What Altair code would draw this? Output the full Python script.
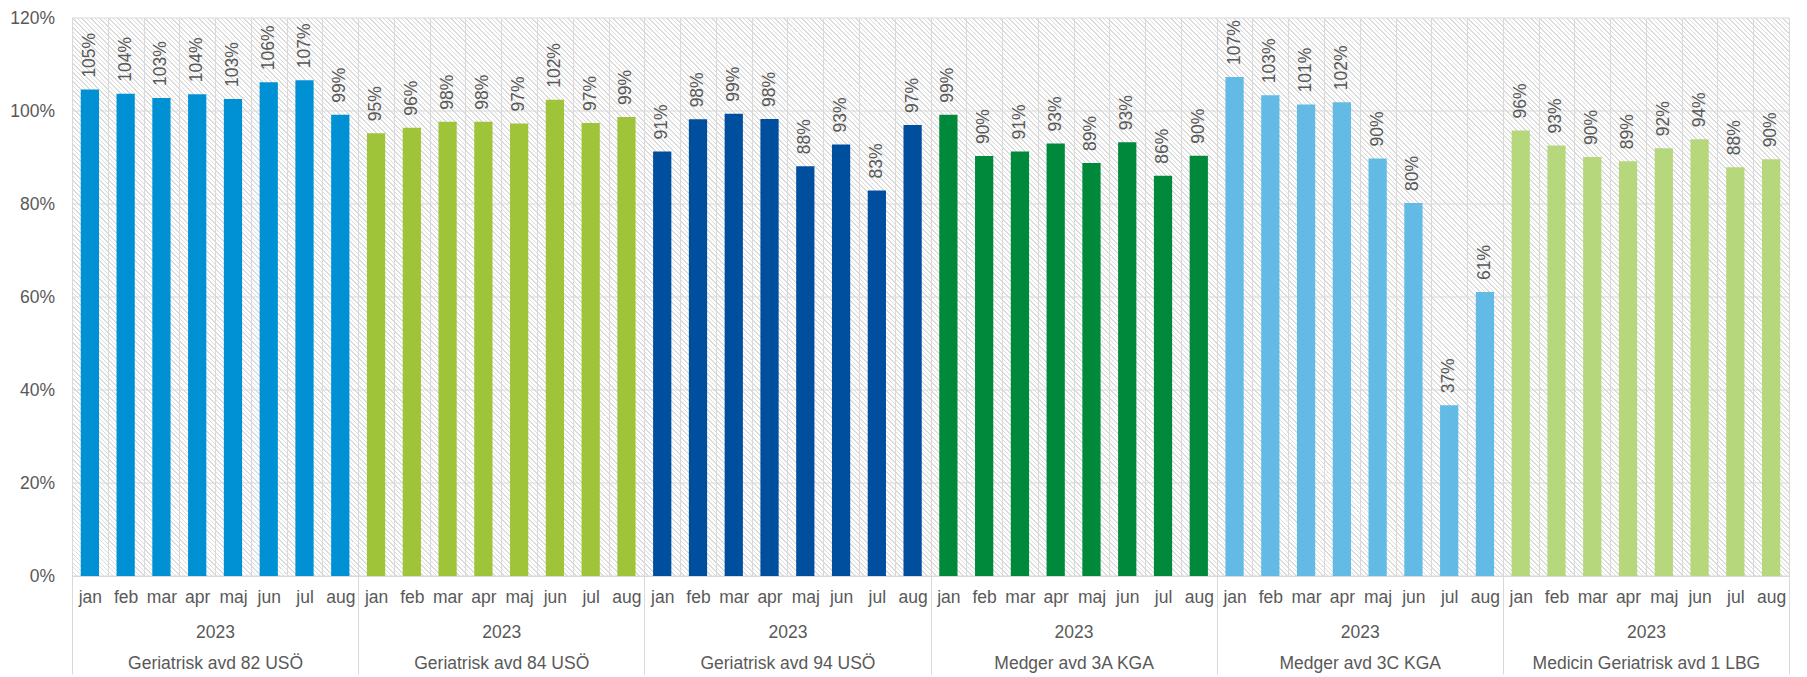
import altair as alt
import pandas as pd

months = ["jan", "feb", "mar", "apr", "maj", "jun", "jul", "aug"]
year = "2023"
groups = [
    "Geriatrisk avd 82 USÖ",
    "Geriatrisk avd 84 USÖ",
    "Geriatrisk avd 94 USÖ",
    "Medger avd 3A KGA",
    "Medger avd 3C KGA",
    "Medicin Geriatrisk avd 1 LBG",
]
colors = ["#0091d5", "#9fc43a", "#004f9f", "#00893a", "#63bbe5", "#b7d77c"]

v82 = [104.6, 103.7, 102.8, 103.6, 102.6, 106.2, 106.6, 99.2]
v84 = [95.2, 96.4, 97.7, 97.7, 97.3, 102.4, 97.4, 98.7]
v94 = [91.3, 98.2, 99.4, 98.3, 88.1, 92.8, 82.9, 97.0]
v3a = [99.2, 90.3, 91.3, 93.0, 88.8, 93.3, 86.1, 90.4]
v3c = [107.3, 103.4, 101.4, 101.9, 89.8, 80.2, 36.7, 61.1]
v1lbg = [95.8, 92.6, 90.1, 89.2, 92.0, 93.9, 87.9, 89.6]
series = [v82, v84, v94, v3a, v3c, v1lbg]

y_ticks = [0, 0.2, 0.4, 0.6, 0.8, 1.0, 1.2]

rows = []
keys = []
for gi, (g, vals) in enumerate(zip(groups, series)):
    for m, v in zip(months, vals):
        k = f"{gi}|{m}"
        keys.append(k)
        rows.append({"key": k, "group": g, "month": m, "value": v / 100.0})
df = pd.DataFrame(rows)

W, H = 1717, 558
FONT = "Liberation Sans"
TXT = "#595959"
GRID = "#d9d9d9"
FS = 17.5

# hatch background (diagonal stripes) as a linear gradient
period = 4.5
C = W + H
stops = []
i = 0
while i * period < C:
    a = i * period / C
    b = min((i * period + period * 0.33) / C, 1.0)
    e = min((i + 1) * period / C, 1.0)
    stops.append(alt.GradientStop(color="#dcdcdc", offset=a))
    stops.append(alt.GradientStop(color="#dcdcdc", offset=b))
    stops.append(alt.GradientStop(color="#ffffff", offset=b))
    stops.append(alt.GradientStop(color="#ffffff", offset=e))
    i += 1
s = W * (W + H) / (W * W + H * H)
hatch_grad = alt.LinearGradient(
    gradient="linear", stops=stops, x1=0, y1=1, x2=s, y2=1 - s * H / W
)

hatch = alt.Chart(pd.DataFrame({"a": [0]})).mark_rect(
    fill=hatch_grad, stroke=None
).encode(
    x=alt.value(0), x2=alt.value("width"), y=alt.value(0), y2=alt.value("height")
)

hgrid = alt.Chart(pd.DataFrame({"t": y_ticks})).mark_rule(
    color=GRID, strokeWidth=1
).encode(y=alt.Y("t:Q", scale=alt.Scale(domain=[0, 1.2])))

x_main = alt.X(
    "key:N",
    sort=keys,
    scale=alt.Scale(paddingInner=0, paddingOuter=0),
    axis=alt.Axis(
        title=None,
        labelExpr="split(datum.label, '|')[1]",
        labelAngle=0,
        ticks=False,
        tickSize=0,
        tickBand="extent",
        grid=True,
        gridColor=GRID,
        gridWidth=1,
        domain=True,
        domainColor=GRID,
        labelPadding=12,
        labelFont=FONT,
        labelFontSize=FS,
        labelColor=TXT,
        labelOverlap=False,
        zindex=1,
    ),
)

y_main = alt.Y(
    "value:Q",
    scale=alt.Scale(domain=[0, 1.2]),
    axis=alt.Axis(
        title=None,
        values=y_ticks,
        format=".0%",
        domain=False,
        ticks=False,
        grid=False,
        labelPadding=17.5,
        labelFont=FONT,
        labelFontSize=FS,
        labelColor=TXT,
    ),
)

base = alt.Chart(df)
bars = base.mark_bar(width=alt.RelativeBandSize(0.51)).encode(
    x=x_main,
    y=y_main,
    color=alt.Color("group:N", scale=alt.Scale(domain=groups, range=colors), legend=None),
)
labels = base.mark_text(
    angle=270, align="left", baseline="middle", dx=12,
    font=FONT, fontSize=FS, color=TXT,
).encode(
    x=alt.X("key:N", sort=keys),
    y=alt.Y("value:Q"),
    text=alt.Text("value:Q", format=".0%"),
)

main = alt.layer(hatch, hgrid, bars, labels)

grp = alt.Chart(pd.DataFrame({"group": groups})).mark_point(opacity=0).encode(
    x=alt.X(
        "group:N",
        sort=groups,
        scale=alt.Scale(paddingInner=0, paddingOuter=0),
        axis=alt.Axis(
            title=None,
            orient="bottom",
            domain=False,
            grid=False,
            ticks=True,
            tickBand="extent",
            tickSize=98,
            tickColor=GRID,
            tickWidth=1,
            labelExpr=f"(datum.label == null || datum.label == '') ? '' : ['{year}', datum.label]",
            labelLineHeight=31.6,
            labelPadding=-51,
            labelAngle=0,
            labelFont=FONT,
            labelFontSize=FS,
            labelColor=TXT,
            labelLimit=0,
            labelOverlap=False,
        ),
    )
)

chart = alt.layer(main, grp).resolve_scale(x="independent").properties(
    width=W,
    height=H,
    autosize=alt.AutoSizeParams(type="none"),
    padding={"left": 64, "top": 10, "right": 10, "bottom": 100},
).configure_view(stroke=None).configure(background="white")

chart.save("out.html", embed_options={"renderer": "svg", "actions": False})
